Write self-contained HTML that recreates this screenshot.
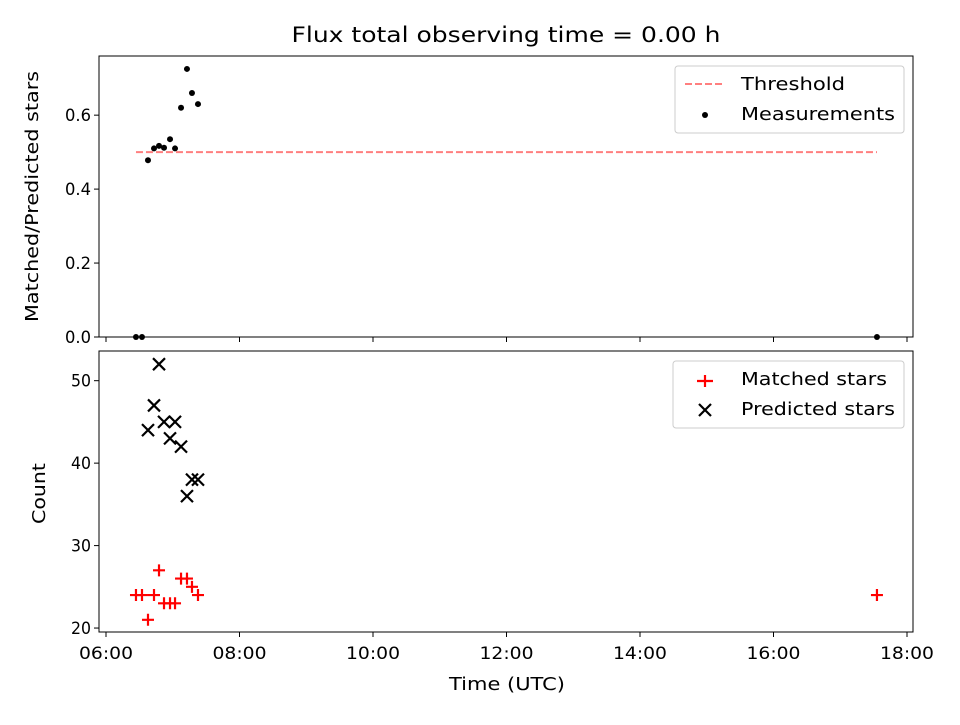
<!DOCTYPE html>
<html><head><meta charset="utf-8"><style>
body{margin:0;background:#fff;font-family:"Liberation Sans","DejaVu Sans",sans-serif}
svg text{font-family:"DejaVu Sans","Liberation Sans",sans-serif;}
</style></head><body>
<svg id="c" width="960" height="720" xmlns="http://www.w3.org/2000/svg"></svg>
<script>
const times=[6.449,6.539,6.629,6.719,6.794,6.869,6.959,7.034,7.124,7.213,7.288,7.378,17.55];
const ratio=[0,0,0.478,0.51,0.517,0.512,0.535,0.51,0.62,0.725,0.66,0.63,0];
const matched=[24,24,21,24,27,23,23,23,26,26,25,24,24];
const predTimes=[6.629,6.719,6.794,6.869,6.959,7.034,7.124,7.213,7.288,7.378];
const predicted=[44,47,52,45,43,45,42,36,38,38];
const threshold=0.5;
const xTicks=[6,8,10,12,14,16,18];
const xTickLabels=["06:00","08:00","10:00","12:00","14:00","16:00","18:00"];
const topTicks=[0,0.2,0.4,0.6];
const botTicks=[20,30,40,50];

const svg=document.getElementById('c');
const NS='http://www.w3.org/2000/svg';
function el(t,a,p){const e=document.createElementNS(NS,t);for(const k in a)e.setAttribute(k,a[k]);(p||svg).appendChild(e);return e;}
function fit(e,len){e.setAttribute('textLength',len);e.setAttribute('lengthAdjust','spacingAndGlyphs');}
const L=99,R=913;
const x=h=>L+(h-5.895)*(R-L)/(18.09-5.895);
const T={t:56,b:337,min:0,max:0.76};
const B={t:351,b:632,min:19.52,max:53.6};
const yT=v=>T.b-(v-T.min)*(T.b-T.t)/(T.max-T.min);
const yB=v=>B.b-(v-B.min)*(B.b-B.t)/(B.max-B.min);

let t=el('text',{x:506,y:42,'text-anchor':'middle','font-size':21});t.textContent='Flux total observing time = 0.00 h';fit(t,429);


// top panel
let g=el('g',{});
let th=el('line',{x1:x(times[0]),x2:x(times[times.length-1]),y1:yT(threshold),y2:yT(threshold),stroke:'#ff7f7f','stroke-width':2,'stroke-dasharray':'7,3'},g);

ratio.forEach((v,i)=>{const c=el('circle',{cx:x(times[i]),cy:yT(v),r:3,fill:'#000'},g);
});
el('rect',{x:L,y:T.t,width:R-L,height:T.b-T.t,fill:'none',stroke:'#000','stroke-width':1},g);
topTicks.forEach(v=>{el('line',{x1:L-5,x2:L,y1:yT(v),y2:yT(v),stroke:'#000'},g);
 const s=el('text',{x:L-8,y:yT(v)+6,'text-anchor':'end','font-size':17},g);s.textContent=v.toFixed(1);fit(s,26);
 });
xTicks.forEach(h=>el('line',{x1:x(h),x2:x(h),y1:T.b,y2:T.b+5,stroke:'#000'},g));
t=el('text',{x:0,y:0,'text-anchor':'middle','font-size':18,transform:`translate(38,${(T.t+T.b)/2}) rotate(-90)`},g);t.textContent='Matched/Predicted stars';fit(t,251);

// top legend
let lg=el('g',{},g);
el('rect',{x:675,y:66,width:229,height:67,rx:3,fill:'#fff',stroke:'#ccc'},lg);
el('line',{x1:685,x2:725,y1:84,y2:84,stroke:'#ff7f7f','stroke-width':2,'stroke-dasharray':'7,3'},lg);
t=el('text',{x:741,y:90,'font-size':18},lg);t.textContent='Threshold';fit(t,104);
el('circle',{cx:705,cy:115,r:3,fill:'#000'},lg);
t=el('text',{x:741,y:120,'font-size':18},lg);t.textContent='Measurements';fit(t,154);

// bottom panel
g=el('g',{});
matched.forEach((v,i)=>{const px=x(times[i]),py=yB(v);
 const p=el('path',{d:`M${px-6} ${py}H${px+6}M${px} ${py-6}V${py+6}`,stroke:'#f00','stroke-width':2.2},g);
 });
predicted.forEach((v,i)=>{const px=x(predTimes[i]),py=yB(v);
 const p=el('path',{d:`M${px-6} ${py-6}L${px+6} ${py+6}M${px-6} ${py+6}L${px+6} ${py-6}`,stroke:'#000','stroke-width':2.2},g);
 });
el('rect',{x:L,y:B.t,width:R-L,height:B.b-B.t,fill:'none',stroke:'#000','stroke-width':1},g);
botTicks.forEach(v=>{el('line',{x1:L-5,x2:L,y1:yB(v),y2:yB(v),stroke:'#000'},g);
 const s=el('text',{x:L-8,y:yB(v)+6,'text-anchor':'end','font-size':17},g);s.textContent=v;fit(s,20);
 });
xTicks.forEach((h,i)=>{el('line',{x1:x(h),x2:x(h),y1:B.b,y2:B.b+5,stroke:'#000'},g);
 const s=el('text',{x:x(h),y:B.b+27,'text-anchor':'middle','font-size':17},g);s.textContent=xTickLabels[i];fit(s,54);
 });
t=el('text',{x:507,y:690,'text-anchor':'middle','font-size':18},g);t.textContent='Time (UTC)';fit(t,116);

t=el('text',{x:0,y:0,'text-anchor':'middle','font-size':18,transform:`translate(45,${(B.t+B.b)/2+2}) rotate(-90)`},g);t.textContent='Count';fit(t,61);

lg=el('g',{},g);
el('rect',{x:673,y:361,width:231,height:67,rx:3,fill:'#fff',stroke:'#ccc'},lg);
el('path',{d:'M697 381H713M705 375V387',stroke:'#f00','stroke-width':2.2},lg);
t=el('text',{x:741,y:385,'font-size':18},lg);t.textContent='Matched stars';fit(t,146);
el('path',{d:'M699 404L711 416M699 416L711 404',stroke:'#000','stroke-width':2.2},lg);
t=el('text',{x:741,y:415,'font-size':18},lg);t.textContent='Predicted stars';fit(t,154);
</script>
</body></html>
